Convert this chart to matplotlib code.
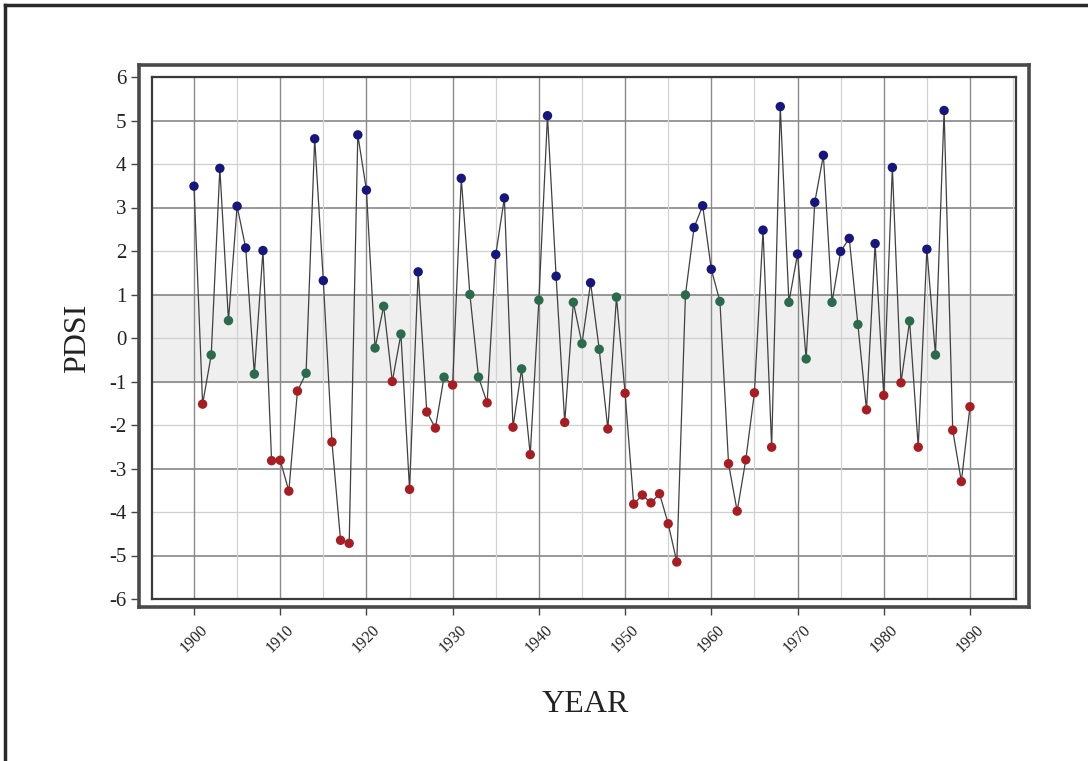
"""PDSI by year, 1900-1990, with the near-normal band (-1..1) shaded.

    python plot.py   -> out.png
"""

import matplotlib as mpl

mpl.use("Agg")
import matplotlib.pyplot as plt  # noqa: E402
from matplotlib.lines import Line2D  # noqa: E402

plt.rcParams["axes.unicode_minus"] = False

YEARS = list(range(1900, 1991))
PDSI = [
    3.49, -1.52, -0.39, 3.90, 0.40, 3.03, 2.07, -0.83, 2.01, -2.82,
    -2.81, -3.52, -1.22, -0.81, 4.58, 1.32, -2.39, -4.65, -4.72, 4.67,
    3.40, -0.23, 0.73, -1.00, 0.09, -3.48, 1.52, -1.70, -2.07, -0.90,
    -1.08, 3.67, 1.00, -0.90, -1.49, 1.92, 3.22, -2.05, -0.71, -2.68,
    0.87, 5.11, 1.42, -1.94, 0.82, -0.13, 1.27, -0.26, -2.09, 0.94,
    -1.27, -3.82, -3.61, -3.79, -3.58, -4.27, -5.15, 0.99, 2.54, 3.04,
    1.58, 0.84, -2.89, -3.98, -2.80, -1.26, 2.48, -2.51, 5.32, 0.82,
    1.93, -0.48, 3.12, 4.20, 0.82, 1.99, 2.29, 0.31, -1.65, 2.17,
    -1.32, 3.92, -1.03, 0.39, -2.51, 2.04, -0.39, 5.23, -2.12, -3.30,
    -1.58,
]
XTICKS = list(range(1900, 1991, 10))
YTICKS = list(range(-6, 7))

W, H = 1088, 761
INNER = (152, 77, 1016, 599)   # left, top, right, bottom (px)
OUTER = (139, 65, 1029, 607)
XLIM = (1895.13, 1995.34)
YLIM = (-6, 6)

WET = "#17177a"
NORMAL = "#2c6a4e"
DRY = "#a51e24"
FONT = "Liberation Serif"


def axes_rect(box):
    left, top, right, bottom = box
    return [left / W, 1 - bottom / H, (right - left) / W, (bottom - top) / H]


def outer_limits():
    sx = (XLIM[1] - XLIM[0]) / (INNER[2] - INNER[0])
    sy = (YLIM[1] - YLIM[0]) / (INNER[3] - INNER[1])
    xl = (XLIM[0] - (INNER[0] - OUTER[0]) * sx, XLIM[1] + (OUTER[2] - INNER[2]) * sx)
    yl = (YLIM[0] - (OUTER[3] - INNER[3]) * sy, YLIM[1] + (INNER[1] - OUTER[1]) * sy)
    return xl, yl


def point_color(v):
    if v > 1:
        return WET
    if v <= -1:
        return DRY
    return NORMAL


def main():
    fig = plt.figure(figsize=(W / 100, H / 100), dpi=100)

    # plotting area (inner frame)
    ax = fig.add_axes(axes_rect(INNER))
    ax.set_xlim(*XLIM)
    ax.set_ylim(*YLIM)
    ax.axhspan(-1, 1, color="#efefef", zorder=0)
    for y in YTICKS:
        major = y % 2 != 0
        ax.axhline(y, color="#7d7d7d" if major else "#cfcfcf",
                   lw=1.1 if major else 0.9, zorder=1)
    for x in range(1895, 1996, 5):
        major = x % 10 == 0
        ax.axvline(x, color="#8a8a8a" if major else "#d2d2d2",
                   lw=1.0 if major else 0.9, zorder=1)
    ax.plot(YEARS, PDSI, color="#404040", lw=0.9, zorder=2)
    ax.scatter(YEARS, PDSI, c=[point_color(v) for v in PDSI], s=46,
               edgecolors="none", zorder=3)
    ax.tick_params(left=False, bottom=False, labelleft=False, labelbottom=False)
    for s in ax.spines.values():
        s.set_linewidth(1.6)
        s.set_color("#3a3a3a")

    # outer frame carries the ticks
    oax = fig.add_axes(axes_rect(OUTER), facecolor="none")
    xl, yl = outer_limits()
    oax.set_xlim(*xl)
    oax.set_ylim(*yl)
    oax.set_xticks(XTICKS)
    oax.set_yticks(YTICKS)
    oax.tick_params(direction="out", length=6, width=1, color="#444444",
                    labelcolor="#222222")
    oax.tick_params(axis="y", labelsize=15, pad=3)
    oax.tick_params(axis="x", labelsize=11.5, pad=5)
    for lab in oax.get_yticklabels():
        lab.set_family(FONT)
    for lab in oax.get_xticklabels():
        lab.set_family(FONT)
        lab.set_rotation(45)
        lab.set_ha("center")
    for s in oax.spines.values():
        s.set_linewidth(2.6)
        s.set_color("#4a4a4a")

    fig.text(585 / W, 1 - 705 / H, "YEAR", family=FONT, fontsize=23,
             ha="center", va="center", color="#222222")
    fig.text(78 / W, 1 - 338 / H, "PDSI", family=FONT, fontsize=23,
             rotation=90, ha="center", va="center", color="#222222")

    # picture border (left and top edges only are visible)
    fig.add_artist(Line2D([5 / W, 5 / W], [0, 1 - 5 / H], color="#2a2a2a", lw=2.5))
    fig.add_artist(Line2D([5 / W, 1], [1 - 5 / H, 1 - 5 / H], color="#2a2a2a", lw=2.5))

    fig.savefig("out.png", dpi=100)
    plt.close(fig)


if __name__ == "__main__":
    main()
